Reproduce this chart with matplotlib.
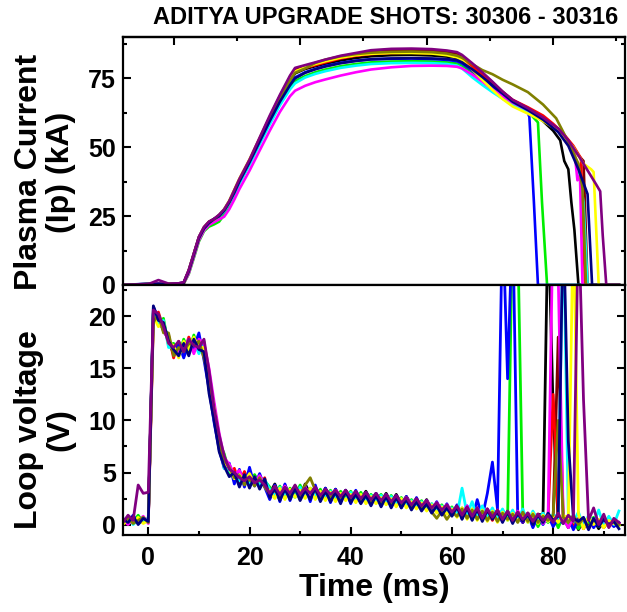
import numpy as np
import matplotlib
matplotlib.use('Agg')
import matplotlib.pyplot as plt
from matplotlib.ticker import MultipleLocator

plt.rcParams['font.family'] = ['Liberation Sans', 'DejaVu Sans']
plt.rcParams['font.weight'] = 'bold'

title = 'ADITYA UPGRADE SHOTS: 30306 - 30316'

# one colour per shot (drawing order)
colors = ['#800000', '#000000', '#FF0000', '#00EE00', '#0000FF', '#00FFFF',
          '#FF00FF', '#FFFF00', '#808000', '#000080', '#800080']

# ---- plasma current (kA), shared time points up to 75 ms, then per-shot tail
t_head = [-5, 0, 2, 4, 6, 7, 8, 9, 10, 11, 12, 13, 14, 15, 16, 17, 18, 20, 22, 24,
          26, 28, 29, 31, 33, 35, 38, 41, 44, 48, 52, 56, 59, 61, 62, 64, 66, 68, 70, 72, 75]

ip_wine = [0, 0.3, 0.5, 0.4, 0.6, 0.9, 5.4, 11.4, 17.4, 21.0, 23.0, 24.0, 25.4, 27.4, 30.4, 34.3, 38.3, 45.3, 53.2, 61.0,
           68.5, 75.5, 78.3, 79.4, 80.4, 81.4, 82.8, 83.8, 84.7, 85.2, 85.3, 85.1, 84.6, 84.0, 83.0, 80.0, 76.8, 73.5, 70.2, 67.0, 64.0]
ip_black = [0, 0.4, 0.2, 0.5, 0.3, 0.7, 5.2, 11.2, 17.2, 20.8, 22.8, 23.8, 25.2, 27.2, 30.2, 34, 38, 45, 52.8, 60.5,
            67.5, 74, 76.8, 78.4, 79.4, 80.3, 81.5, 82.4, 83, 83.4, 83.5, 83.3, 82.9, 82.4, 81.6, 78.8, 75.8, 72.5, 69.4, 66.3, 63.2]
ip_red = [0, 0.1, 0.6, 0.2, 0.4, 0.6, 5.0, 11.0, 17.0, 20.6, 22.6, 23.8, 25.0, 27.0, 30.0, 33.8, 37.8, 44.8, 52.6, 60.2,
          67.5, 74.2, 77.5, 78.8, 79.8, 80.8, 82.2, 83.2, 83.8, 84.2, 84.3, 84.1, 83.7, 83.1, 82.2, 79.2, 76.2, 73.0, 70.0, 67.2, 64.5]
ip_green = [0, 0.3, 0.2, 0.6, 0.2, 0.5, 4.0, 9.8, 15.8, 19.5, 21.2, 22.0, 23.0, 25.5, 29.0, 33.0, 37.0, 44.0, 51.5, 58.8,
            65.8, 71.5, 74.0, 75.8, 77.2, 78.2, 79.4, 80.2, 80.8, 81.1, 81.2, 81.1, 80.8, 80.4, 79.6, 77.2, 74.8, 72.0, 69.0, 66.2, 63.2]
ip_blue = [0, 0.5, 0.3, 0.4, 0.6, 0.8, 5.2, 11.3, 17.3, 20.7, 22.7, 23.9, 25.3, 27.3, 30.3, 34.0, 38.0, 45.0, 52.5, 60.0,
           67.0, 73.0, 75.3, 77.2, 78.4, 79.5, 80.6, 81.4, 81.9, 82.1, 82.2, 82.0, 81.7, 81.2, 80.4, 77.8, 74.6, 71.5, 68.5, 66.0, 62.5]
ip_cyan = [0, 0.2, 0.4, 0.3, 0.5, 0.6, 4.8, 10.8, 16.8, 20.3, 22.3, 23.5, 24.8, 26.6, 29.5, 33.0, 36.8, 43.6, 51.0, 58.3,
           65.2, 71.0, 73.2, 75.3, 76.6, 77.6, 78.8, 79.6, 80.2, 80.5, 80.6, 80.5, 80.2, 79.6, 78.6, 75.4, 72.6, 70.0, 67.6, 65.4, 62.8]
ip_magenta = [0, 0.3, 0.5, 0.2, 0.4, 0.5, 4.2, 10.2, 16.2, 19.8, 21.8, 22.8, 23.8, 24.8, 27.5, 31.0, 34.8, 41.5, 48.8, 56.0,
              62.8, 68.5, 70.5, 72.3, 73.6, 74.6, 76.0, 77.2, 78.2, 79.0, 79.5, 79.6, 79.5, 79.2, 78.6, 76.4, 73.8, 71.0, 68.5, 66.2, 63.5]
ip_yellow = [0, 0.2, 0.3, 0.5, 0.3, 0.7, 5.3, 11.3, 17.3, 20.8, 22.8, 23.9, 25.3, 27.5, 30.6, 34.6, 38.6, 45.6, 53.2, 60.8,
             67.8, 74.5, 77.5, 79.0, 80.2, 81.2, 82.5, 83.4, 83.9, 84.2, 84.2, 84.0, 83.4, 82.6, 81.5, 78.2, 74.5, 70.8, 67.5, 64.8, 62.2]
ip_olive = [0, 0.4, 0.2, 0.3, 0.5, 0.6, 5.0, 11.0, 17.0, 20.6, 22.6, 23.8, 25.0, 27.0, 30.0, 34.0, 38.0, 45.0, 52.8, 60.6,
            67.8, 74.2, 77.0, 78.6, 80.6, 81.8, 83.0, 83.8, 84.3, 84.6, 84.7, 84.5, 84.0, 83.2, 82.5, 80.2, 78.0, 76.5, 74.5, 72.8, 70.0]
ip_navy = [0, 0.2, 0.5, 0.3, 0.5, 0.8, 5.0, 11.0, 17.0, 20.5, 22.5, 24, 25, 27, 30, 33.5, 37.5, 44.5, 52, 59.5,
           66.5, 72.5, 75.0, 77.0, 78.3, 79.3, 80.5, 81.3, 81.9, 82.2, 82.3, 82.2, 82.0, 81.6, 80.8, 78.3, 75.5, 72.5, 69.5, 66.5, 63.5]
ip_purple = [0, 0.3, 1.8, 0.5, 0.6, 1.0, 5.5, 11.5, 17.5, 21, 23, 24, 25.5, 27.5, 30.5, 34.5, 38.5, 45.5, 53.5, 61.5,
             69, 76, 78.8, 79.8, 80.8, 81.8, 83.2, 84.2, 85.2, 85.7, 85.8, 85.6, 85.1, 84.5, 83.5, 80.5, 77.2, 73.8, 70.2, 67.2, 64.2]

tail_t = [
    [78, 81, 83, 85, 86, 86.8, 93],                 # wine
    [78, 80, 81.4, 82.2, 83, 83.6, 84.2, 85, 93],   # black
    [78, 80, 82, 84, 85.5, 86.3, 93],               # red
    [76, 77, 77.8, 78.8, 93],                       # green
    [75.3, 76.2, 77, 93],                           # blue
    [78, 81, 83, 85, 86, 86.8, 93],                 # cyan
    [78, 81, 83, 84.3, 84.8, 85.3, 85.8, 93],       # magenta
    [78, 81, 84, 86, 87.5, 88, 89, 93],             # yellow
    [78, 80.6, 82, 83.5, 85, 85.8, 86.5, 93],       # olive
    [78, 81, 83, 85, 86.8, 87.7, 93],               # navy
    [78, 81, 83, 85, 87, 88.5, 89.3, 89.8, 90.5, 93],  # purple
]
tail_ip = [
    [60.5, 56.5, 52, 47, 45, 0, 0],
    [59.5, 56, 52.5, 45, 42, 30, 20, 0, 0],
    [61.5, 58.5, 55, 50.5, 46, 0, 0],
    [61, 59, 30, 0, 0],
    [61, 30, 0, 0],
    [60, 56, 51.5, 43, 30, 0, 0],
    [60.5, 56, 51, 47, 38, 40, 0, 0],
    [59.5, 56, 50, 44, 42, 41, 0, 0],
    [65.5, 60.5, 55.5, 50, 44, 35, 0, 0],
    [60, 55.5, 50.5, 42, 33, 0, 0],
    [60.8, 56.8, 52.5, 47, 41, 36.5, 34, 18, 0, 0],
]
ip_heads = [ip_wine, ip_black, ip_red, ip_green, ip_blue, ip_cyan,
            ip_magenta, ip_yellow, ip_olive, ip_navy, ip_purple]

# ---- loop voltage (V), one reading per ms starting at -5 ms
v_wine = [0.4, 0.1, 0.5, 0.2, 0.3, 0.6,
          20.4, 19.8, 18.6, 17.8, 16.6, 17.0, 16.8, 17.2, 17.4, 17.2, 16.4,
          13.4, 10.8, 8.0, 6.0, 5.1, 4.7, 4.4, 4.3, 4.2, 4.1, 4.0, 3.9,
          3.1, 3.3, 2.8, 3.3, 2.9, 3.2, 2.9, 3.3, 2.8, 3.1, 2.8, 3.0, 2.7, 3.0, 2.6, 2.9, 2.6, 2.8, 2.5, 2.7,
          2.4, 2.6, 2.3, 2.5, 2.2, 2.4, 2.1, 2.3, 2.0, 2.1, 1.8, 1.9, 1.6, 1.7, 1.4, 1.5, 1.2,
          1.3, 1.0, 1.2, 0.9, 1.1, 0.8, 1.0, 0.7, 0.9, 0.6, 0.8, 0.5, 0.7, 0.4, 0.6, 0.5, 0.7, 0.4, 0.6, 0.5,
          18.0, 0.4, 0.3, 0.6, 0.1, 0.5, -0.1, 0.4, 0.2, 0.3, 0.0, 0.2, 0.1]
v_black = [0.2, 0.8, 0.1, 0.6, 0.3, 0.4,
           20.3, 19.6, 19.0, 17.6, 16.4, 17.2, 16.5, 17.6, 16.9, 17.8, 16.2,
           14.3, 10.6, 8.4, 5.9, 5.6, 4.2, 5.0, 3.9, 4.8, 3.8, 4.6, 3.7,
           3.0, 3.9, 2.7, 3.8, 2.8, 3.7, 2.7, 3.9, 2.9, 3.6, 2.6, 3.5, 2.6, 3.4, 2.5, 3.3, 2.6, 3.2, 2.4, 3.2,
           2.3, 3.0, 2.2, 3.0, 2.1, 2.9, 2.0, 2.7, 1.9, 2.5, 1.6, 2.4, 1.4, 2.1, 1.2, 1.9, 1.0,
           1.8, 0.8, 1.7, 0.7, 1.6, 0.6, 1.5, 0.5, 1.4, 0.4, 1.3, 0.3, 1.2, 0.2, 1.1, 0.1, 1.0, 0.9,
           30.0, 11.0, 0.2, 0.8, -0.3, 0.6, -0.5, 0.4, -0.2, 0.5, -0.4, 0.3, -0.1, 0.2, 0.0]
v_red = [0.5, 0.1, 0.7, 0.2, 0.6, 0.3,
         19.8, 20.4, 18.8, 18.2, 16.0, 17.6, 16.4, 18.0, 16.8, 17.4, 16.8,
         13.2, 11.5, 7.6, 6.5, 4.8, 5.4, 4.0, 5.1, 3.8, 4.7, 3.6, 4.5,
         2.5, 3.3, 2.4, 3.6, 2.5, 3.4, 2.4, 3.5, 2.6, 3.3, 2.5, 3.2, 2.3, 3.1, 2.4, 3.0, 2.2, 3.0, 2.1, 2.9,
         2.0, 2.8, 1.9, 2.7, 1.8, 2.6, 1.7, 2.5, 1.6, 2.3, 1.5, 2.1, 1.2, 2.0, 1.1, 1.8, 0.9,
         1.6, 0.7, 1.5, 0.6, 1.6, 0.5, 1.4, 0.4, 1.3, 0.5, 1.2, 0.3, 1.3, 0.2, 1.1, 0.4, 1.0, 0.3, 0.8,
         12.5, 0.6, 0.2, 0.9, -0.2, 0.6, -0.4, 0.5, 0.0, 0.4, -0.3, 0.3, 0.1, 0.0]
v_green = [0.1, 0.6, 0.3, 0.9, 0.2, 0.5,
           20.6, 19.4, 19.8, 17.2, 17.4, 16.2, 17.8, 16.6, 18.2, 16.6, 17.6,
           13.6, 11.0, 7.9, 6.8, 5.0, 4.9, 4.3, 4.6, 4.1, 4.8, 4.0, 4.2,
           3.6, 2.6, 3.7, 2.6, 3.5, 2.8, 3.8, 2.6, 3.5, 2.7, 3.4, 2.5, 3.3, 2.4, 3.2, 2.5, 3.2, 2.3, 3.1, 2.2,
           2.9, 2.3, 2.9, 2.0, 2.8, 1.9, 2.6, 1.8, 2.4, 1.7, 2.3, 1.5, 2.0, 1.3, 1.9, 1.2, 1.7,
           0.8, 1.6, 0.6, 1.5, 0.7, 1.4, 0.5, 1.3, 0.4, 1.4, 0.6, 30.0, 28.0, 1.0, 0.3, 1.1, -0.2, 0.7, 0.2,
           0.9, -0.3, 0.8, 0.1, 0.6, -0.4, 0.5, 0.2, 0.7, -0.2, 0.4, 0.0, 0.3, -0.1]
v_blue = [0.6, 0.2, 0.9, 0.1, 0.7, 0.2,
          20.9, 19.8, 19.2, 17.8, 16.6, 17.4, 16.0, 17.4, 17.0, 18.4, 15.8,
          13.0, 9.8, 7.2, 5.4, 5.9, 3.9, 5.3, 3.6, 5.5, 3.7, 4.9, 3.6,
          2.4, 3.8, 2.2, 3.9, 2.3, 3.6, 2.5, 3.7, 2.2, 3.8, 2.3, 3.5, 2.1, 3.4, 2.2, 3.3, 2.0, 3.3, 2.1, 3.1,
          1.9, 3.0, 1.8, 2.9, 1.7, 2.8, 1.6, 2.7, 1.5, 2.6, 1.4, 2.3, 1.2, 2.2, 1.0, 2.0, 0.9,
          1.9, 0.6, 1.8, 0.5, 2.4, 0.7, 3.0, 6.0, 1.5, 30.0, 14.0, 30.0, 0.8, 0.2, 1.0, -0.3, 0.8, 0.0, 0.9,
          -0.2, 0.6, 0.1, 0.7, -0.5, 0.5, 0.2, 0.6, -0.3, 0.4, 0.1, 0.3, -0.2, 0.2]
v_cyan = [0.3, 0.7, 0.0, 0.5, 0.4, 0.6,
          20.2, 19.2, 19.6, 17.0, 17.0, 16.4, 17.2, 17.0, 17.6, 16.4, 17.2,
          14.6, 10.2, 8.0, 5.4, 5.2, 4.6, 4.2, 4.4, 3.9, 4.5, 3.8, 4.3,
          3.4, 2.8, 3.6, 2.9, 3.3, 2.6, 3.6, 2.7, 3.4, 2.8, 3.1, 2.7, 3.2, 2.6, 3.0, 2.4, 3.1, 2.4, 2.9, 2.3,
          2.8, 2.2, 2.8, 2.1, 2.7, 2.0, 2.5, 1.9, 2.3, 1.8, 2.2, 1.6, 2.0, 1.4, 1.8, 1.3, 1.6,
          0.9, 3.5, 1.0, 2.2, 0.6, 1.8, 0.7, 1.6, 0.5, 1.5, 0.4, 1.4, 0.3, 1.5, 0.2, 1.3, 0.4, 1.1, 0.3, 1.0,
          0.6, 30.0, 0.9, 0.3, 1.2, -0.2, 0.9, 0.1, 1.4, -0.1, 0.8, 0.0, 1.3]
v_magenta = [0.4, 0.0, 0.6, 0.3, 0.8, 0.1,
             19.6, 20.0, 18.6, 17.8, 16.8, 16.6, 17.0, 17.8, 16.4, 17.8, 17.4,
             15.0, 11.8, 8.8, 6.4, 5.8, 4.8, 5.2, 4.0, 4.6, 4.1, 4.7, 3.9,
             2.8, 3.6, 3.0, 3.7, 2.9, 3.5, 3.0, 3.6, 2.8, 3.4, 2.9, 3.3, 2.7, 3.3, 2.8, 3.2, 2.6, 3.1, 2.5, 3.0,
             2.4, 2.9, 2.4, 2.8, 2.3, 2.7, 2.1, 2.6, 2.0, 2.4, 1.8, 2.3, 1.6, 2.1, 1.5, 1.9, 1.3,
             1.7, 1.0, 1.8, 0.8, 1.6, 0.7, 1.5, 0.6, 1.4, 0.5, 1.2, 0.4, 1.3, 0.3, 1.1, 0.2, 1.0, 0.1, 0.7,
             30.0, 24.0, 0.5, -0.3, 0.7, 0.1, 0.6, -0.4, 0.4, 0.0, 0.5, -0.2, 0.3, 0.1]
v_yellow = [0.0, 0.5, 0.2, 0.7, 0.1, 0.4,
            20.0, 19.0, 19.4, 17.4, 17.2, 16.0, 17.6, 16.8, 18.0, 17.0, 17.0,
            14.0, 11.2, 8.2, 6.0, 5.4, 4.4, 4.8, 4.1, 4.9, 3.9, 4.4, 3.8,
            3.2, 2.5, 3.5, 2.4, 3.4, 2.6, 3.3, 2.5, 3.5, 2.4, 3.2, 2.3, 3.1, 2.2, 3.0, 2.3, 2.9, 2.1, 2.9, 2.0,
            2.7, 2.0, 2.6, 1.9, 2.5, 1.7, 2.5, 1.6, 2.2, 1.5, 2.1, 1.3, 1.9, 1.1, 1.7, 1.0, 1.5,
            0.7, 1.6, 0.5, 1.5, 0.4, 1.4, 0.3, 1.3, 0.2, 1.2, 0.4, 1.1, 0.3, 1.0, 0.2, 1.1, 0.1, 0.9, 0.3, 0.8,
            0.2, 0.9, 0.6, 30.0, 1.0, -0.4, 0.8, 0.0, 0.5, -0.3, 0.4, 0.1, -0.1]
v_olive = [0.3, 0.6, 0.1, 0.4, 0.7, 0.2,
           19.4, 20.2, 18.4, 18.4, 16.2, 17.0, 16.6, 17.4, 17.2, 17.6, 16.0,
           13.8, 10.4, 7.8, 6.2, 5.5, 4.5, 4.7, 3.8, 4.4, 3.7, 4.5, 3.6,
           2.9, 3.4, 2.6, 3.5, 2.7, 3.6, 2.8, 3.8, 4.5, 3.3, 2.6, 3.3, 2.5, 3.2, 2.6, 3.1, 2.4, 3.0, 2.3, 2.9,
           2.2, 2.8, 2.1, 2.7, 2.0, 2.6, 1.9, 2.4, 1.7, 2.2, 1.5, 1.9, 1.2, 0.6, 1.3, 0.5, 1.2,
           0.8, 1.5, 0.6, 1.4, 0.5, 1.3, 0.4, 1.2, 0.3, 1.1, 0.5, 1.0, 0.2, 1.2, 0.3, 1.0, 0.2, 0.8, 0.4, 0.9,
           10.0, 0.7, 0.2, 0.9, 0.0, 0.6, -0.3, 0.5, 0.1, 0.7, -0.2, 0.4, 0.0]
v_navy = [0.5, 0.2, 0.8, 0.0, 0.6, 0.3,
          21.0, 19.6, 19.4, 17.6, 16.8, 16.2, 17.4, 16.2, 17.8, 16.8, 16.6,
          12.6, 10.0, 7.0, 5.6, 4.6, 5.0, 3.6, 4.8, 3.5, 4.6, 3.4, 4.4,
          2.6, 3.5, 2.3, 3.4, 2.4, 3.5, 2.3, 3.3, 2.4, 3.5, 2.2, 3.2, 2.2, 3.1, 2.0, 3.2, 2.1, 2.9, 2.0, 2.8,
          1.8, 2.8, 1.7, 2.7, 1.6, 2.6, 1.6, 2.4, 1.4, 2.2, 1.3, 2.0, 1.1, 1.8, 0.9, 1.6, 0.8,
          1.7, 0.5, 1.6, 0.4, 1.5, 0.3, 1.4, 0.5, 1.3, 0.2, 1.2, 0.1, 1.1, 0.3, 1.0, 0.0, 0.9, 0.2, 1.1, 0.4,
          0.8, 30.0, 8.0, 0.6, 0.3, 0.7, -0.5, 0.6, -0.2, 0.5, 0.0, 0.3, -0.4]
v_purple = [0.2, 0.9, 0.4, 3.8, 3.0, 3.1,
            20.6, 20.2, 19.0, 17.4, 17.0, 17.6, 16.6, 17.8, 17.2, 17.0, 17.8,
            14.8, 11.2, 8.6, 6.6, 5.3, 5.0, 4.5, 4.2, 4.6, 4.0, 4.3, 3.8,
            3.0, 3.7, 2.9, 3.6, 3.0, 3.8, 2.9, 3.5, 3.0, 3.6, 2.8, 3.4, 2.9, 3.3, 2.7, 3.3, 2.6, 3.2, 2.5, 3.1,
            2.4, 3.0, 2.3, 2.9, 2.2, 2.8, 2.1, 2.6, 1.9, 2.5, 1.8, 2.3, 1.6, 2.1, 1.4, 1.9, 1.2,
            1.8, 0.9, 1.7, 0.8, 1.6, 0.6, 1.5, 0.7, 1.4, 0.5, 1.3, 0.4, 1.2, 0.5, 1.1, 0.3, 1.0, 0.4, 0.9, 0.2,
            1.1, 0.1, 0.9, 0.3, 30.0, 12.0, 0.4, 1.6, 0.0, 1.0, -0.3, 0.6, 0.2]
v_all = [v_wine, v_black, v_red, v_green, v_blue, v_cyan,
         v_magenta, v_yellow, v_olive, v_navy, v_purple]

fig = plt.figure(figsize=(6.27, 6.12), dpi=100)
W, H = 627.0, 612.0
ax1 = fig.add_axes([123 / W, 1 - 285 / H, 502 / W, 248 / H])
ax2 = fig.add_axes([123 / W, 1 - 535 / H, 502 / W, 250 / H])

for c, head, tt, ti in zip(colors, ip_heads, tail_t, tail_ip):
    ax1.plot(t_head + tt, head + ti, color=c, lw=1.9)

for c, v in zip(colors, v_all):
    t = -5 + np.arange(len(v))
    ax2.plot(t, v, color=c, lw=2.0)

for ax in (ax1, ax2):
    ax.set_xlim(-5, 94.2)
    for s in ax.spines.values():
        s.set_linewidth(1.6)
    ax.tick_params(which='both', direction='in', width=1.5, labelsize=18, pad=5)
    ax.tick_params(which='major', length=6)
    ax.tick_params(which='minor', length=3)

ax1.set_ylim(0, 90)
ax1.yaxis.set_major_locator(MultipleLocator(25))
ax1.yaxis.set_minor_locator(MultipleLocator(12.5))
ax1.tick_params(which='both', left=True, right=True, bottom=False, top=False, labelbottom=False)
top = ax1.secondary_xaxis('top')
top.set_xticks([5, 30, 55, 80])
top.set_xticks([17.5, 42.5, 67.5, 92.5], minor=True)
top.tick_params(which='both', direction='in', width=1.5, labeltop=False)
top.tick_params(which='major', length=6)
top.tick_params(which='minor', length=3)
top.spines['top'].set_linewidth(1.6)

ax2.set_ylim(-1, 23)
ax2.yaxis.set_major_locator(MultipleLocator(5))
ax2.yaxis.set_minor_locator(MultipleLocator(2.5))
ax2.xaxis.set_major_locator(MultipleLocator(20))
ax2.xaxis.set_minor_locator(MultipleLocator(10))
ax2.tick_params(which='both', left=True, right=True, bottom=True, top=False)
ax2.tick_params(axis='x', pad=8)

for lab in ax1.get_yticklabels() + ax2.get_yticklabels() + ax2.get_xticklabels():
    lab.set_fontweight('bold')

ax1.set_ylabel('Plasma Current\n(Ip) (kA)', fontsize=23, fontweight='bold', linespacing=1.1)
ax1.yaxis.set_label_coords(-0.094, 0.455)
ax2.set_ylabel('Loop voltage\n(V)', fontsize=23, fontweight='bold', linespacing=1.1)
ax2.yaxis.set_label_coords(-0.094, 0.42)
ax2.set_xlabel('Time (ms)', fontsize=23, fontweight='bold', labelpad=2)

fig.text(618 / W, 1 - 18 / H, title, ha='right', va='center', fontsize=17, fontweight='bold')

fig.savefig('out.png', dpi=100)
